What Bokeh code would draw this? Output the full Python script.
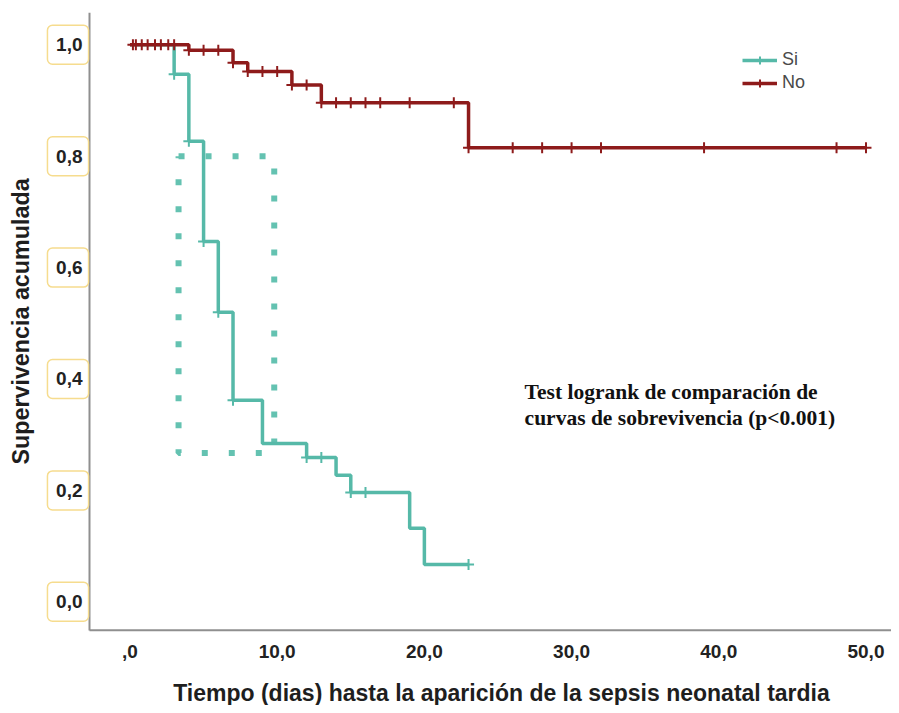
import numpy as np
from bokeh.plotting import figure
from bokeh.models import Range1d, FixedTicker, Legend, LegendItem, Label
from bokeh.embed import file_html
from bokeh.resources import INLINE

# ---- data ----
# Group "Si" (sepsis): step times and cumulative survival after each step
times_si = [0, 3, 4, 5, 6, 7, 9, 12, 14, 15, 19, 20, 23]
surv_si = [1.0, 0.947, 0.827, 0.647, 0.520, 0.362, 0.284, 0.259, 0.227, 0.196, 0.132, 0.067, 0.067]
censor_si = [3, 4, 5, 6, 7, 12, 13, 15, 16, 23]

# Group "No"
times_no = [0, 4, 7, 8, 11, 13, 23, 50]
surv_no = [1.0, 0.990, 0.968, 0.952, 0.928, 0.896, 0.815, 0.815]
censor_no = [0.2, 0.4, 0.8, 1.2, 1.7, 2.1, 2.6, 3.0, 4, 5, 6, 7, 8, 9, 10, 11, 12,
             13, 14, 15, 16, 17, 19, 22, 23, 26, 28, 30, 32, 39, 48, 50]

group_labels = ["Si", "No"]
x_ticks = [0, 10, 20, 30, 40, 50]
x_tick_labels = [",0", "10,0", "20,0", "30,0", "40,0", "50,0"]
y_ticks = [0.0, 0.2, 0.4, 0.6, 0.8, 1.0]
y_tick_labels = ["0,0", "0,2", "0,4", "0,6", "0,8", "1,0"]

# highlighted region (dotted box) around the steep drop of "Si"
highlight_t = (3.3, 9.8)
highlight_s = (0.267, 0.800)

x_title = "Tiempo (dias) hasta la aparición de la sepsis neonatal tardia"
y_title = "Supervivencia acumulada"
note_lines = ["Test logrank de comparación de", "curvas de sobrevivencia (p<0.001)"]

TEAL = "#56b9a8"
RED = "#8e1b1b"
AXIS_GREY = "#8f8f8f"
SANS = "Liberation Sans"
# scale: 14.72 px per day, 557 px per unit of survival
AX_X0 = -2.75            # where the y axis sits
FR_X0 = -8.796           # frame left (frame covers the whole canvas)
FR_X1 = 51.734           # frame right
AX_Y0, AX_Y1 = -0.051, 1.058
FR_Y0 = -0.1862


def surv_at(times, surv, t):
    idx = np.searchsorted(np.asarray(times, float), np.asarray(t, float), side="right") - 1
    return np.asarray(surv)[idx]


p = figure(width=891, height=705, x_range=Range1d(FR_X0, FR_X1), y_range=Range1d(FR_Y0, AX_Y1),
           output_backend="svg", toolbar_location=None,
           min_border_left=0, min_border_right=0, min_border_top=12, min_border_bottom=0)
p.grid.visible = False
p.outline_line_color = None
p.background_fill_color = "white"
p.border_fill_color = "white"

# x-axis baseline (full width, from the y axis to the right edge)
p.segment(x0=[AX_X0], y0=[AX_Y0], x1=[FR_X1 + 1], y1=[AX_Y0], line_color=AXIS_GREY, line_width=2)

# dotted highlight box
hx = [highlight_t[0], highlight_t[1], highlight_t[1], highlight_t[0], highlight_t[0]]
hy = [highlight_s[1], highlight_s[1], highlight_s[0], highlight_s[0], highlight_s[1]]
p.line(hx, hy, line_color="#64c2b1", line_width=6, line_dash="6 21", line_cap="butt")

# curves
si_line = p.step(times_si, surv_si, mode="after", line_color=TEAL, line_width=3.5)
si_cens = p.scatter(censor_si, surv_at(times_si, surv_si, censor_si), marker="cross",
                    size=11, line_color=TEAL, line_width=2)
no_line = p.step(times_no, surv_no, mode="after", line_color=RED, line_width=3.5)
no_cens = p.scatter(censor_no, surv_at(times_no, surv_no, censor_no), marker="cross",
                    size=11, line_color=RED, line_width=2)

# axes (fixed inside the frame)
xa = p.xaxis[0]
xa.ticker = FixedTicker(ticks=x_ticks)
xa.major_label_overrides = {t: l for t, l in zip(x_ticks, x_tick_labels)}
xa.fixed_location = AX_Y0
xa.bounds = (-1.255, FR_X1)   # centres the axis title as in the reference
ya = p.yaxis[0]
ya.ticker = FixedTicker(ticks=y_ticks)
ya.major_label_overrides = {t: l for t, l in zip(y_ticks, y_tick_labels)}
ya.fixed_location = AX_X0
ya.bounds = (AX_Y0, AX_Y1)
for ax in (xa, ya):
    ax.axis_line_color = AXIS_GREY
    ax.axis_line_width = 2
    ax.major_tick_line_color = None
    ax.minor_tick_line_color = None
    ax.major_tick_out = 0
    ax.major_tick_in = 0
    ax.major_label_text_font = SANS
    ax.major_label_text_font_size = "19px"
    ax.major_label_text_font_style = "bold"
    ax.major_label_text_color = "#222222"
    ax.axis_label_text_font = SANS
    ax.axis_label_text_font_style = "bold"
    ax.axis_label_text_color = "#1e1e1e"
xa.axis_line_color = None
xa.axis_label = x_title
xa.axis_label_text_font_size = "23px"
xa.major_label_standoff = 15
xa.axis_label_standoff = 18
ya.axis_label = y_title
ya.axis_label_text_font_size = "23.3px"
ya.major_label_standoff = 7
ya.axis_label_standoff = 19

# rounded boxes around the y tick labels
box_blank = "\u2007\u2007\u200a"
for t in y_ticks:
    p.add_layout(Label(x=-4.21, y=t, text=box_blank, text_align="center",
                       text_baseline="middle", text_font=SANS, text_font_size="21px",
                       text_font_style="bold",
                       border_line_color="#f6dc8e", border_line_width=1.5,
                       border_radius=5, padding=8, background_fill_color=None))

# log-rank note
for i, line in enumerate(note_lines):
    p.add_layout(Label(x=26.81, y=0.3758 - i * 0.0467, text=line,
                       text_font="Liberation Serif", text_font_style="bold",
                       text_font_size="21.5px", text_color="#111111",
                       text_baseline="alphabetic"))

legend = Legend(items=[LegendItem(label=group_labels[0], renderers=[si_line, si_cens]),
                       LegendItem(label=group_labels[1], renderers=[no_line, no_cens])],
                location=(742, 612), orientation="vertical",
                padding=0, margin=0, spacing=2, glyph_width=35, glyph_height=20,
                label_height=20, label_standoff=5,
                label_text_font=SANS, label_text_font_size="18px", label_text_color="#4a4a4a",
                background_fill_alpha=0, border_line_color=None)
p.add_layout(legend)

open("out.html", "w").write(file_html(p, INLINE))
